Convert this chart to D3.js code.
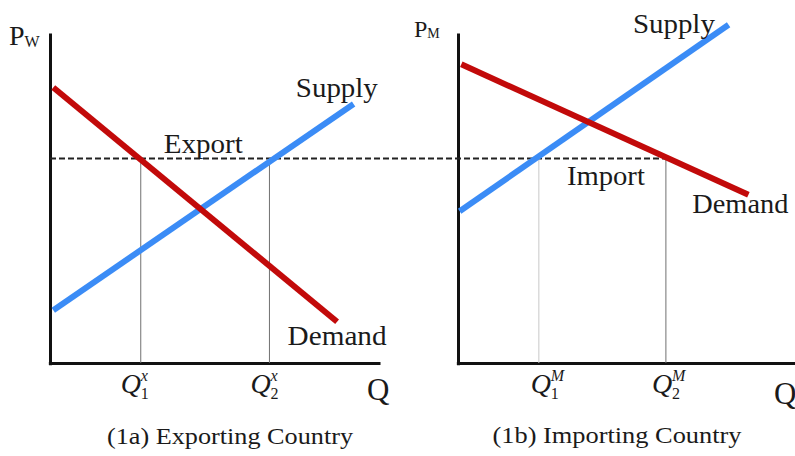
<!DOCTYPE html>
<html>
<head>
<meta charset="utf-8">
<script src="https://cdn.jsdelivr.net/npm/d3@7"></script>
<style>
  body { margin: 0; background: #fff; }
  text { font-family: "Liberation Serif", "Times New Roman", serif; fill: #1a1a1a; }
</style>
</head>
<body>
<script>
// values (Q and P in arbitrary units 0..10)
const exportDemand = [[0.1, 8.35], [8.7, 1.25]];
const exportSupply = [[0.1, 1.6], [9.2, 7.85]];
const importDemand = [[0.1, 9.05], [8.8, 5.1]];
const importSupply = [[0.05, 4.6], [8.2, 10.25]];
const worldPrice = 6.2;
const exportQ = [2.75, 6.65];
const importQ = [2.45, 6.3];
const qLabelsX = ["x", "x"];
const qLabelsM = ["M", "M"];

var w = 795;
var h = 456;

const svg = d3.select("body").append("svg")
    .attr("width", w)
    .attr("height", h);

const red = "#c20a0a";
const blue = "#3b8cf6";

// panel scales, both panels share the price scale
const xL = d3.scaleLinear().domain([0, 10]).range([50, 380]);
const xR = d3.scaleLinear().domain([0, 10]).range([458, 788]);
const y = d3.scaleLinear().domain([0, 10]).range([363, 33]);

const line = (xs) => d3.line().x(d => xs(d[0])).y(d => y(d[1]));

function drawAxes(xs, xmax) {
    const g = svg.append("g");
    g.append("g")
        .attr("transform", "translate(0," + y(0) + ")")
        .call(d3.axisBottom(xs.copy().domain([-0.05, xmax]).range([xs(-0.05), xs(xmax)])).tickValues([]).tickSizeOuter(0))
        .select(".domain").attr("stroke", "#111").attr("stroke-width", 3);
    g.append("g")
        .attr("transform", "translate(" + xs(0) + ",0)")
        .call(d3.axisLeft(y.copy().domain([-0.05, 10]).range([y(-0.05), y(10)])).tickValues([]).tickSizeOuter(0))
        .select(".domain").attr("stroke", "#111").attr("stroke-width", 3);
}

drawAxes(xL, 10);
drawAxes(xR, 10.4);

// world price dashed line across both panels
svg.append("line")
    .attr("x1", xL(0)).attr("x2", xR(importQ[1]))
    .attr("y1", y(worldPrice)).attr("y2", y(worldPrice))
    .attr("stroke", "#222").attr("stroke-width", 2)
    .attr("stroke-dasharray", "6,3");

// quantity guides
function guides(xs, qs, colors) {
    svg.selectAll(null).data(qs).enter().append("line")
        .attr("x1", d => xs(d)).attr("x2", d => xs(d))
        .attr("y1", y(worldPrice)).attr("y2", y(0))
        .attr("stroke", (d, i) => colors[i]).attr("stroke-width", 1);
}
guides(xL, exportQ, ["#707070", "#707070"]);
guides(xR, importQ, ["#c8c8c8", "#707070"]);

// curves
svg.append("path").datum(exportSupply).attr("d", line(xL))
    .attr("stroke", blue).attr("stroke-width", 6).attr("fill", "none");
svg.append("path").datum(exportDemand).attr("d", line(xL))
    .attr("stroke", red).attr("stroke-width", 6).attr("fill", "none");
svg.append("path").datum(importSupply).attr("d", line(xR))
    .attr("stroke", blue).attr("stroke-width", 6).attr("fill", "none");
svg.append("path").datum(importDemand).attr("d", line(xR))
    .attr("stroke", red).attr("stroke-width", 6).attr("fill", "none");

// labels
function label(x, yy, txt, size, len) {
    return svg.append("text").attr("x", x).attr("y", yy)
        .attr("font-size", size)
        .attr("textLength", len).attr("lengthAdjust", "spacingAndGlyphs")
        .text(txt);
}
label(xL(7.45), y(8.05), "Supply", 27, 82);
label(xL(3.45), y(6.35), "Export", 27, 79);
label(xL(7.2), y(0.55), "Demand", 27, 99);
label(xR(5.3), y(10.0), "Supply", 27, 82);
label(xR(3.3), y(5.4), "Import", 27, 78);
label(xR(7.1), y(4.55), "Demand", 27, 96);

// price axis titles
const pw = svg.append("text").attr("x", 9).attr("y", 45).attr("font-size", 28).text("P");
pw.append("tspan").attr("font-size", 16).attr("dy", 2).text("W");
const pm = svg.append("text").attr("x", 414).attr("y", 37).attr("font-size", 24).text("P");
pm.append("tspan").attr("font-size", 14).attr("dy", 1).text("M");

// quantity axis titles
svg.append("text").attr("x", xL(10) - 13).attr("y", 400).attr("font-size", 31).text("Q");
svg.append("text").attr("x", 774).attr("y", 404).attr("font-size", 31).text("Q");

// Q1 / Q2 tick labels
function qTicks(xs, qs, sup, offs, yy) {
    qs.forEach((q, i) => {
        const x0 = xs(q) + offs[i];
        svg.append("text")
            .attr("x", x0).attr("y", yy)
            .attr("font-size", 28).attr("font-style", "italic")
            .text("Q");
        svg.append("text")
            .attr("x", x0 + 20).attr("y", yy - 12)
            .attr("font-size", 16).attr("font-style", "italic")
            .text(sup[i]);
        svg.append("text")
            .attr("x", x0 + 20).attr("y", yy + 6)
            .attr("font-size", 16)
            .text(i + 1);
    });
}
qTicks(xL, exportQ, qLabelsX, [-20, -19], 393);
qTicks(xR, importQ, qLabelsM, [-8, -14], 393);

// captions
svg.append("text").attr("x", 230).attr("y", 444).attr("text-anchor", "middle")
    .attr("font-size", 24).attr("textLength", 246).attr("lengthAdjust", "spacingAndGlyphs")
    .text("(1a) Exporting Country");
svg.append("text").attr("x", 617).attr("y", 443).attr("text-anchor", "middle")
    .attr("font-size", 24).attr("textLength", 249).attr("lengthAdjust", "spacingAndGlyphs")
    .text("(1b) Importing Country");
</script>
</body>
</html>
